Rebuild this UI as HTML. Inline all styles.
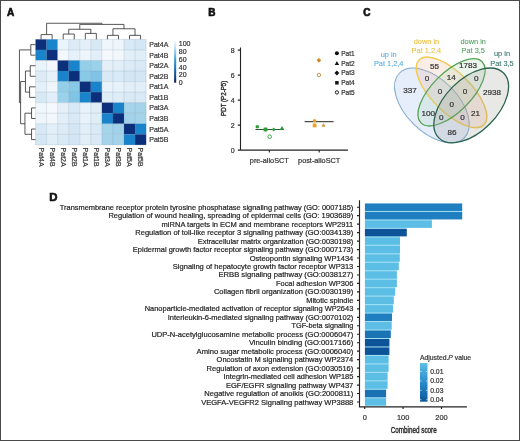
<!DOCTYPE html>
<html><head><meta charset="utf-8"><title>Figure</title>
<style>
html,body{margin:0;padding:0;background:#fff;}
svg{display:block;will-change:transform;}
text{font-family:"Liberation Sans", sans-serif;}
</style></head><body>
<svg width="520" height="441" viewBox="0 0 520 441">
<rect x="0.5" y="0.5" width="519" height="440" fill="#fff" stroke="#4a4a4a" stroke-width="1"/>
<text x="7.0" y="15.8" font-size="10" font-weight="bold" fill="#111" stroke="#111" stroke-width="0.65">A</text>
<text x="208.3" y="15.8" font-size="10" font-weight="bold" fill="#111" stroke="#111" stroke-width="0.65">B</text>
<text x="363.3" y="15.8" font-size="10" font-weight="bold" fill="#111" stroke="#111" stroke-width="0.65">C</text>
<text x="49.2" y="200.6" font-size="11.4" font-weight="bold" fill="#111" stroke="#111" stroke-width="0.65">D</text>
<rect x="35.55" y="39.35" width="11.11" height="10.60" fill="#0b2f7a"/>
<rect x="46.60" y="39.35" width="11.11" height="10.60" fill="#1983cb"/>
<rect x="57.66" y="39.35" width="11.11" height="10.60" fill="#eaf4fb"/>
<rect x="68.72" y="39.35" width="11.11" height="10.60" fill="#dcebf6"/>
<rect x="79.77" y="39.35" width="11.11" height="10.60" fill="#e4f0f9"/>
<rect x="90.82" y="39.35" width="11.11" height="10.60" fill="#d8e9f6"/>
<rect x="101.88" y="39.35" width="11.11" height="10.60" fill="#f0f7fc"/>
<rect x="112.93" y="39.35" width="11.11" height="10.60" fill="#eef5fb"/>
<rect x="123.99" y="39.35" width="11.11" height="10.60" fill="#d8e9f5"/>
<rect x="135.05" y="39.35" width="11.11" height="10.60" fill="#d5e7f4"/>
<rect x="35.55" y="49.90" width="11.11" height="10.60" fill="#1983cb"/>
<rect x="46.60" y="49.90" width="11.11" height="10.60" fill="#0b2f7a"/>
<rect x="57.66" y="49.90" width="11.11" height="10.60" fill="#f2f8fd"/>
<rect x="68.72" y="49.90" width="11.11" height="10.60" fill="#e6f1f9"/>
<rect x="79.77" y="49.90" width="11.11" height="10.60" fill="#eef5fb"/>
<rect x="90.82" y="49.90" width="11.11" height="10.60" fill="#e3eff8"/>
<rect x="101.88" y="49.90" width="11.11" height="10.60" fill="#f5f9fd"/>
<rect x="112.93" y="49.90" width="11.11" height="10.60" fill="#f2f7fc"/>
<rect x="123.99" y="49.90" width="11.11" height="10.60" fill="#e3eff8"/>
<rect x="135.05" y="49.90" width="11.11" height="10.60" fill="#dfeef7"/>
<rect x="35.55" y="60.45" width="11.11" height="10.60" fill="#eaf4fb"/>
<rect x="46.60" y="60.45" width="11.11" height="10.60" fill="#f2f8fd"/>
<rect x="57.66" y="60.45" width="11.11" height="10.60" fill="#0b2f7a"/>
<rect x="68.72" y="60.45" width="11.11" height="10.60" fill="#1983cb"/>
<rect x="79.77" y="60.45" width="11.11" height="10.60" fill="#94cfea"/>
<rect x="90.82" y="60.45" width="11.11" height="10.60" fill="#9bd2eb"/>
<rect x="101.88" y="60.45" width="11.11" height="10.60" fill="#e4eff8"/>
<rect x="112.93" y="60.45" width="11.11" height="10.60" fill="#e2eef8"/>
<rect x="123.99" y="60.45" width="11.11" height="10.60" fill="#dcebf6"/>
<rect x="135.05" y="60.45" width="11.11" height="10.60" fill="#dae9f6"/>
<rect x="35.55" y="71.00" width="11.11" height="10.60" fill="#dcebf6"/>
<rect x="46.60" y="71.00" width="11.11" height="10.60" fill="#e6f1f9"/>
<rect x="57.66" y="71.00" width="11.11" height="10.60" fill="#1983cb"/>
<rect x="68.72" y="71.00" width="11.11" height="10.60" fill="#0b2f7a"/>
<rect x="79.77" y="71.00" width="11.11" height="10.60" fill="#88c9e7"/>
<rect x="90.82" y="71.00" width="11.11" height="10.60" fill="#80c4e5"/>
<rect x="101.88" y="71.00" width="11.11" height="10.60" fill="#d9e9f5"/>
<rect x="112.93" y="71.00" width="11.11" height="10.60" fill="#d9e9f5"/>
<rect x="123.99" y="71.00" width="11.11" height="10.60" fill="#d4e6f3"/>
<rect x="135.05" y="71.00" width="11.11" height="10.60" fill="#d4e6f3"/>
<rect x="35.55" y="81.55" width="11.11" height="10.60" fill="#e4f0f9"/>
<rect x="46.60" y="81.55" width="11.11" height="10.60" fill="#eef5fb"/>
<rect x="57.66" y="81.55" width="11.11" height="10.60" fill="#94cfea"/>
<rect x="68.72" y="81.55" width="11.11" height="10.60" fill="#88c9e7"/>
<rect x="79.77" y="81.55" width="11.11" height="10.60" fill="#0b2f7a"/>
<rect x="90.82" y="81.55" width="11.11" height="10.60" fill="#1983cb"/>
<rect x="101.88" y="81.55" width="11.11" height="10.60" fill="#e8f2fa"/>
<rect x="112.93" y="81.55" width="11.11" height="10.60" fill="#e8f2fa"/>
<rect x="123.99" y="81.55" width="11.11" height="10.60" fill="#e2eef8"/>
<rect x="135.05" y="81.55" width="11.11" height="10.60" fill="#e2eef8"/>
<rect x="35.55" y="92.10" width="11.11" height="10.60" fill="#d8e9f6"/>
<rect x="46.60" y="92.10" width="11.11" height="10.60" fill="#e3eff8"/>
<rect x="57.66" y="92.10" width="11.11" height="10.60" fill="#9bd2eb"/>
<rect x="68.72" y="92.10" width="11.11" height="10.60" fill="#80c4e5"/>
<rect x="79.77" y="92.10" width="11.11" height="10.60" fill="#1983cb"/>
<rect x="90.82" y="92.10" width="11.11" height="10.60" fill="#0b2f7a"/>
<rect x="101.88" y="92.10" width="11.11" height="10.60" fill="#dfedf7"/>
<rect x="112.93" y="92.10" width="11.11" height="10.60" fill="#dfedf7"/>
<rect x="123.99" y="92.10" width="11.11" height="10.60" fill="#d9e9f5"/>
<rect x="135.05" y="92.10" width="11.11" height="10.60" fill="#d9e9f5"/>
<rect x="35.55" y="102.65" width="11.11" height="10.60" fill="#f0f7fc"/>
<rect x="46.60" y="102.65" width="11.11" height="10.60" fill="#f5f9fd"/>
<rect x="57.66" y="102.65" width="11.11" height="10.60" fill="#e4eff8"/>
<rect x="68.72" y="102.65" width="11.11" height="10.60" fill="#d9e9f5"/>
<rect x="79.77" y="102.65" width="11.11" height="10.60" fill="#e8f2fa"/>
<rect x="90.82" y="102.65" width="11.11" height="10.60" fill="#dfedf7"/>
<rect x="101.88" y="102.65" width="11.11" height="10.60" fill="#0b2f7a"/>
<rect x="112.93" y="102.65" width="11.11" height="10.60" fill="#1983cb"/>
<rect x="123.99" y="102.65" width="11.11" height="10.60" fill="#a6d4ea"/>
<rect x="135.05" y="102.65" width="11.11" height="10.60" fill="#a4d3ea"/>
<rect x="35.55" y="113.20" width="11.11" height="10.60" fill="#eef5fb"/>
<rect x="46.60" y="113.20" width="11.11" height="10.60" fill="#f2f7fc"/>
<rect x="57.66" y="113.20" width="11.11" height="10.60" fill="#e2eef8"/>
<rect x="68.72" y="113.20" width="11.11" height="10.60" fill="#d9e9f5"/>
<rect x="79.77" y="113.20" width="11.11" height="10.60" fill="#e8f2fa"/>
<rect x="90.82" y="113.20" width="11.11" height="10.60" fill="#dfedf7"/>
<rect x="101.88" y="113.20" width="11.11" height="10.60" fill="#1983cb"/>
<rect x="112.93" y="113.20" width="11.11" height="10.60" fill="#0b2f7a"/>
<rect x="123.99" y="113.20" width="11.11" height="10.60" fill="#a2d2e9"/>
<rect x="135.05" y="113.20" width="11.11" height="10.60" fill="#a4d3ea"/>
<rect x="35.55" y="123.75" width="11.11" height="10.60" fill="#d8e9f5"/>
<rect x="46.60" y="123.75" width="11.11" height="10.60" fill="#e3eff8"/>
<rect x="57.66" y="123.75" width="11.11" height="10.60" fill="#dcebf6"/>
<rect x="68.72" y="123.75" width="11.11" height="10.60" fill="#d4e6f3"/>
<rect x="79.77" y="123.75" width="11.11" height="10.60" fill="#e2eef8"/>
<rect x="90.82" y="123.75" width="11.11" height="10.60" fill="#d9e9f5"/>
<rect x="101.88" y="123.75" width="11.11" height="10.60" fill="#a6d4ea"/>
<rect x="112.93" y="123.75" width="11.11" height="10.60" fill="#a2d2e9"/>
<rect x="123.99" y="123.75" width="11.11" height="10.60" fill="#0b2f7a"/>
<rect x="135.05" y="123.75" width="11.11" height="10.60" fill="#1983cb"/>
<rect x="35.55" y="134.30" width="11.11" height="10.60" fill="#d5e7f4"/>
<rect x="46.60" y="134.30" width="11.11" height="10.60" fill="#dfeef7"/>
<rect x="57.66" y="134.30" width="11.11" height="10.60" fill="#dae9f6"/>
<rect x="68.72" y="134.30" width="11.11" height="10.60" fill="#d4e6f3"/>
<rect x="79.77" y="134.30" width="11.11" height="10.60" fill="#e2eef8"/>
<rect x="90.82" y="134.30" width="11.11" height="10.60" fill="#d9e9f5"/>
<rect x="101.88" y="134.30" width="11.11" height="10.60" fill="#a4d3ea"/>
<rect x="112.93" y="134.30" width="11.11" height="10.60" fill="#a4d3ea"/>
<rect x="123.99" y="134.30" width="11.11" height="10.60" fill="#1983cb"/>
<rect x="135.05" y="134.30" width="11.11" height="10.60" fill="#0b2f7a"/>
<path d="M35.55 39.35V144.85 M35.55 39.35H146.10 M46.60 39.35V144.85 M35.55 49.90H146.10 M57.66 39.35V144.85 M35.55 60.45H146.10 M68.72 39.35V144.85 M35.55 71.00H146.10 M79.77 39.35V144.85 M35.55 81.55H146.10 M90.82 39.35V144.85 M35.55 92.10H146.10 M101.88 39.35V144.85 M35.55 102.65H146.10 M112.93 39.35V144.85 M35.55 113.20H146.10 M123.99 39.35V144.85 M35.55 123.75H146.10 M135.05 39.35V144.85 M35.55 134.30H146.10 M146.10 39.35V144.85 M35.55 144.85H146.10" stroke="#5a7890" stroke-width="0.6" fill="none" opacity="0.28"/>
<path d="M41.08 39.35V34.60 M52.13 39.35V34.60 M41.08 34.60H52.13 M63.19 39.35V34.05 M74.24 39.35V34.05 M63.19 34.05H74.24 M85.30 39.35V33.40 M96.35 39.35V33.40 M85.30 33.40H96.35 M107.41 39.35V35.35 M118.46 39.35V35.35 M107.41 35.35H118.46 M129.52 39.35V35.35 M140.57 39.35V35.35 M129.52 35.35H140.57 M68.72 34.05V29.25 M90.82 33.40V29.25 M68.72 29.25H90.82 M112.94 35.35V28.75 M135.04 35.35V28.75 M112.94 28.75H135.04 M79.77 29.25V24.40 M123.99 28.75V24.40 M79.77 24.40H123.99 M46.60 34.60V23.25 M101.88 24.40V23.25 M46.60 23.25H101.88 M35.55 44.62H30.80 M35.55 55.18H30.80 M30.80 44.62V55.18 M35.55 65.72H30.25 M35.55 76.28H30.25 M30.25 65.72V76.28 M35.55 86.83H29.60 M35.55 97.38H29.60 M29.60 86.83V97.38 M35.55 107.93H31.55 M35.55 118.47H31.55 M31.55 107.93V118.47 M35.55 129.03H31.55 M35.55 139.58H31.55 M31.55 129.03V139.58 M30.25 71.00H25.45 M29.60 92.10H25.45 M25.45 71.00V92.10 M31.55 113.20H24.95 M31.55 134.30H24.95 M24.95 113.20V134.30 M25.45 81.55H20.60 M24.95 123.75H20.60 M20.60 81.55V123.75 M30.80 49.90H19.45 M20.60 102.65H19.45 M19.45 49.90V102.65" stroke="#3a3a3a" stroke-width="0.85" fill="none"/>
<text x="149.3" y="47.12" font-size="7" fill="#333" stroke="#333" stroke-width="0.2">Pat4A</text>
<text x="149.3" y="57.68" font-size="7" fill="#333" stroke="#333" stroke-width="0.2">Pat4B</text>
<text x="149.3" y="68.22" font-size="7" fill="#333" stroke="#333" stroke-width="0.2">Pat2A</text>
<text x="149.3" y="78.78" font-size="7" fill="#333" stroke="#333" stroke-width="0.2">Pat2B</text>
<text x="149.3" y="89.33" font-size="7" fill="#333" stroke="#333" stroke-width="0.2">Pat1A</text>
<text x="149.3" y="99.88" font-size="7" fill="#333" stroke="#333" stroke-width="0.2">Pat1B</text>
<text x="149.3" y="110.43" font-size="7" fill="#333" stroke="#333" stroke-width="0.2">Pat3A</text>
<text x="149.3" y="120.97" font-size="7" fill="#333" stroke="#333" stroke-width="0.2">Pat3B</text>
<text x="149.3" y="131.53" font-size="7" fill="#333" stroke="#333" stroke-width="0.2">Pat5A</text>
<text x="149.3" y="142.08" font-size="7" fill="#333" stroke="#333" stroke-width="0.2">Pat5B</text>
<text transform="translate(38.58,147.6) rotate(90)" font-size="7" fill="#333" stroke="#333" stroke-width="0.2">Pat4A</text>
<text transform="translate(49.63,147.6) rotate(90)" font-size="7" fill="#333" stroke="#333" stroke-width="0.2">Pat4B</text>
<text transform="translate(60.69,147.6) rotate(90)" font-size="7" fill="#333" stroke="#333" stroke-width="0.2">Pat2A</text>
<text transform="translate(71.74,147.6) rotate(90)" font-size="7" fill="#333" stroke="#333" stroke-width="0.2">Pat2B</text>
<text transform="translate(82.80,147.6) rotate(90)" font-size="7" fill="#333" stroke="#333" stroke-width="0.2">Pat1A</text>
<text transform="translate(93.85,147.6) rotate(90)" font-size="7" fill="#333" stroke="#333" stroke-width="0.2">Pat1B</text>
<text transform="translate(104.91,147.6) rotate(90)" font-size="7" fill="#333" stroke="#333" stroke-width="0.2">Pat3A</text>
<text transform="translate(115.96,147.6) rotate(90)" font-size="7" fill="#333" stroke="#333" stroke-width="0.2">Pat3B</text>
<text transform="translate(127.02,147.6) rotate(90)" font-size="7" fill="#333" stroke="#333" stroke-width="0.2">Pat5A</text>
<text transform="translate(138.07,147.6) rotate(90)" font-size="7" fill="#333" stroke="#333" stroke-width="0.2">Pat5B</text>
<defs><linearGradient id="cbA" x1="0" y1="0" x2="0" y2="1"><stop offset="0" stop-color="#f2f8fd"/><stop offset="0.15" stop-color="#c4e2f2"/><stop offset="0.3" stop-color="#80c6e8"/><stop offset="0.45" stop-color="#3c9ed3"/><stop offset="0.6" stop-color="#2480c0"/><stop offset="0.75" stop-color="#1762a2"/><stop offset="0.9" stop-color="#0d3e7a"/><stop offset="1" stop-color="#0a2450"/></linearGradient><linearGradient id="cbD" x1="0" y1="0" x2="0" y2="1"><stop offset="0" stop-color="#5cbfe6"/><stop offset="0.5" stop-color="#2a8ccb"/><stop offset="1" stop-color="#0c5798"/></linearGradient></defs>
<rect x="174.1" y="40.8" width="2.1" height="41.9" fill="url(#cbA)"/>
<text x="178.8" y="46.45" font-size="7.0" fill="#333" stroke="#333" stroke-width="0.2">100</text>
<text x="178.8" y="54.17" font-size="7.0" fill="#333" stroke="#333" stroke-width="0.2">80</text>
<text x="178.8" y="61.89" font-size="7.0" fill="#333" stroke="#333" stroke-width="0.2">60</text>
<text x="178.8" y="69.61" font-size="7.0" fill="#333" stroke="#333" stroke-width="0.2">40</text>
<text x="178.8" y="77.33" font-size="7.0" fill="#333" stroke="#333" stroke-width="0.2">20</text>
<text x="178.8" y="85.05" font-size="7.0" fill="#333" stroke="#333" stroke-width="0.2">0</text>
<path d="M240.5 47.4V150.6 M240 150.1H347.9 M237.8 150.1H240.5 M237.8 125.1H240.5 M237.8 100.1H240.5 M237.8 75.1H240.5 M237.8 50.1H240.5 M269.3 150.1V152.4 M319.2 150.1V152.4" stroke="#222" stroke-width="1.1" fill="none"/>
<text x="234.7" y="152.60" font-size="7" text-anchor="end" fill="#333" stroke="#333" stroke-width="0.2">0</text>
<text x="234.7" y="127.60" font-size="7" text-anchor="end" fill="#333" stroke="#333" stroke-width="0.2">2</text>
<text x="234.7" y="102.60" font-size="7" text-anchor="end" fill="#333" stroke="#333" stroke-width="0.2">4</text>
<text x="234.7" y="77.60" font-size="7" text-anchor="end" fill="#333" stroke="#333" stroke-width="0.2">6</text>
<text x="234.7" y="52.60" font-size="7" text-anchor="end" fill="#333" stroke="#333" stroke-width="0.2">8</text>
<text transform="translate(226.0,98.3) rotate(-90) scale(0.95,1)" font-size="6.5" text-anchor="middle" fill="#2a2a2a" stroke="#2a2a2a" stroke-width="0.35">PDT (P2-P5)</text>
<text x="269.3" y="162.7" font-size="7.3" text-anchor="middle" fill="#333" stroke="#333" stroke-width="0.2">pre-alloSCT</text>
<text x="319.2" y="162.7" font-size="7.3" text-anchor="middle" fill="#333" stroke="#333" stroke-width="0.2">post-alloSCT</text>
<path d="M255.4 129.5H283.8" stroke="#2a5a2a" stroke-width="1"/>
<circle cx="257.3" cy="126.8" r="1.8" fill="#2e9e3a"/>
<rect x="263.6" y="127.7" width="3.8" height="3.6" fill="#2e9e3a"/>
<circle cx="265.6" cy="129.5" r="1.9" fill="#2e9e3a"/>
<path d="M273.7 127.5L275.6 129.5L273.7 131.5L271.8 129.5Z" fill="#2e9e3a"/>
<path d="M282 125.9L284.1 129.6H279.9Z" fill="#2e9e3a"/>
<circle cx="269.7" cy="136.7" r="1.8" fill="none" stroke="#2e9e3a" stroke-width="0.9"/>
<path d="M304.6 121.7H333.6" stroke="#222" stroke-width="1"/>
<circle cx="314.6" cy="120.8" r="1.8" fill="#f0a020"/>
<rect x="312.7" y="123.5" width="3.8" height="3.8" fill="#f0a020"/>
<path d="M323.5 123L325.6 126.7H321.4Z" fill="#d09a3c"/>
<path d="M318.9 57.9L321.2 60.3L318.9 62.7L316.6 60.3Z" fill="#d08a20"/>
<circle cx="318.9" cy="75" r="1.7" fill="#fff" stroke="#c08a30" stroke-width="0.9"/>
<circle cx="336.9" cy="53.2" r="2.0" fill="#111"/>
<path d="M336.9 61.0L339.1 65.0H334.7Z" fill="#111"/>
<path d="M336.9 70.6L339.3 73.0L336.9 75.4L334.5 73.0Z" fill="#111"/>
<rect x="335.15" y="81.05" width="3.5" height="3.5" fill="#111"/>
<circle cx="336.9" cy="92.4" r="1.65" fill="none" stroke="#111" stroke-width="0.95"/>
<text x="341.2" y="55.50" font-size="6.5" fill="#333" stroke="#333" stroke-width="0.2">Pat1</text>
<text x="341.2" y="65.60" font-size="6.5" fill="#333" stroke="#333" stroke-width="0.2">Pat2</text>
<text x="341.2" y="75.30" font-size="6.5" fill="#333" stroke="#333" stroke-width="0.2">Pat3</text>
<text x="341.2" y="85.10" font-size="6.5" fill="#333" stroke="#333" stroke-width="0.2">Pat4</text>
<text x="341.2" y="94.70" font-size="6.5" fill="#333" stroke="#333" stroke-width="0.2">Pat5</text>
<ellipse cx="431.90" cy="105.42" rx="45.85" ry="26.20" transform="rotate(45 431.90 105.42)" fill="rgba(150,180,240,0.24)" stroke="#7ea8cc" stroke-width="1.0"/>
<ellipse cx="451.55" cy="92.31" rx="45.85" ry="19.65" transform="rotate(45 451.55 92.31)" fill="rgba(235,180,150,0.24)" stroke="#f1ca52" stroke-width="1.45"/>
<ellipse cx="451.55" cy="92.31" rx="43.23" ry="19.65" transform="rotate(-45 451.55 92.31)" fill="rgba(170,210,170,0.22)" stroke="#52a455" stroke-width="1.3"/>
<ellipse cx="471.20" cy="105.42" rx="45.85" ry="26.20" transform="rotate(-45 471.20 105.42)" fill="rgba(150,150,140,0.22)" stroke="#2b6450" stroke-width="1.3"/>
<text transform="translate(410,92.65) scale(1.1,1)" font-size="7.4" text-anchor="middle" fill="#333" stroke="#333" stroke-width="0.2">337</text>
<text transform="translate(434.5,68.95) scale(1.1,1)" font-size="7.4" text-anchor="middle" fill="#333" stroke="#333" stroke-width="0.2">55</text>
<text transform="translate(468,67.65) scale(1.1,1)" font-size="7.4" text-anchor="middle" fill="#333" stroke="#333" stroke-width="0.2">1783</text>
<text transform="translate(492,95.15) scale(1.1,1)" font-size="7.4" text-anchor="middle" fill="#333" stroke="#333" stroke-width="0.2">2938</text>
<text transform="translate(427,80.65) scale(1.1,1)" font-size="7.4" text-anchor="middle" fill="#333" stroke="#333" stroke-width="0.2">0</text>
<text transform="translate(451.3,80.15) scale(1.1,1)" font-size="7.4" text-anchor="middle" fill="#333" stroke="#333" stroke-width="0.2">14</text>
<text transform="translate(476.3,81.45) scale(1.1,1)" font-size="7.4" text-anchor="middle" fill="#333" stroke="#333" stroke-width="0.2">0</text>
<text transform="translate(440,93.95) scale(1.1,1)" font-size="7.4" text-anchor="middle" fill="#333" stroke="#333" stroke-width="0.2">0</text>
<text transform="translate(465,93.95) scale(1.1,1)" font-size="7.4" text-anchor="middle" fill="#333" stroke="#333" stroke-width="0.2">0</text>
<text transform="translate(451.8,107.15) scale(1.1,1)" font-size="7.4" text-anchor="middle" fill="#333" stroke="#333" stroke-width="0.2">0</text>
<text transform="translate(428.3,115.65) scale(1.1,1)" font-size="7.4" text-anchor="middle" fill="#333" stroke="#333" stroke-width="0.2">100</text>
<text transform="translate(475.5,115.65) scale(1.1,1)" font-size="7.4" text-anchor="middle" fill="#333" stroke="#333" stroke-width="0.2">21</text>
<text transform="translate(441.3,120.15) scale(1.1,1)" font-size="7.4" text-anchor="middle" fill="#333" stroke="#333" stroke-width="0.2">0</text>
<text transform="translate(462.5,120.15) scale(1.1,1)" font-size="7.4" text-anchor="middle" fill="#333" stroke="#333" stroke-width="0.2">0</text>
<text transform="translate(452,134.65) scale(1.1,1)" font-size="7.4" text-anchor="middle" fill="#333" stroke="#333" stroke-width="0.2">86</text>
<text x="388.7" y="57.15" font-size="7.4" text-anchor="middle" fill="#55ade2" stroke="#55ade2" stroke-width="0.08">up in</text>
<text x="388.7" y="65.65" font-size="7.4" text-anchor="middle" fill="#55ade2" stroke="#55ade2" stroke-width="0.08">Pat 1,2,4</text>
<text x="426.4" y="43.95" font-size="7.4" text-anchor="middle" fill="#ecbd3a" stroke="#ecbd3a" stroke-width="0.08">down in</text>
<text x="426.4" y="52.55" font-size="7.4" text-anchor="middle" fill="#ecbd3a" stroke="#ecbd3a" stroke-width="0.08">Pat 1,2,4</text>
<text x="473.2" y="43.95" font-size="7.4" text-anchor="middle" fill="#52a060" stroke="#52a060" stroke-width="0.08">down in</text>
<text x="473.2" y="52.55" font-size="7.4" text-anchor="middle" fill="#52a060" stroke="#52a060" stroke-width="0.08">Pat 3,5</text>
<text x="502" y="56.45" font-size="7.4" text-anchor="middle" fill="#2f6e66" stroke="#2f6e66" stroke-width="0.08">up in</text>
<text x="502" y="66.15" font-size="7.4" text-anchor="middle" fill="#2f6e66" stroke="#2f6e66" stroke-width="0.08">Pat 3,5</text>
<rect x="364.9" y="210.53" width="97.30" height="1.8" fill="#a8e2f7"/>
<rect x="364.9" y="219.00" width="67.00" height="1.8" fill="#a8e2f7"/>
<rect x="364.9" y="227.47" width="41.90" height="1.8" fill="#a8e2f7"/>
<rect x="364.9" y="235.94" width="35.10" height="1.8" fill="#a8e2f7"/>
<rect x="364.9" y="244.41" width="35.10" height="1.8" fill="#a8e2f7"/>
<rect x="364.9" y="252.88" width="34.90" height="1.8" fill="#a8e2f7"/>
<rect x="364.9" y="261.36" width="33.90" height="1.8" fill="#a8e2f7"/>
<rect x="364.9" y="269.83" width="32.00" height="1.8" fill="#a8e2f7"/>
<rect x="364.9" y="278.30" width="32.00" height="1.8" fill="#a8e2f7"/>
<rect x="364.9" y="286.76" width="30.30" height="1.8" fill="#a8e2f7"/>
<rect x="364.9" y="295.24" width="28.90" height="1.8" fill="#a8e2f7"/>
<rect x="364.9" y="303.71" width="28.20" height="1.8" fill="#a8e2f7"/>
<rect x="364.9" y="312.18" width="27.10" height="1.8" fill="#a8e2f7"/>
<rect x="364.9" y="320.65" width="26.80" height="1.8" fill="#a8e2f7"/>
<rect x="364.9" y="329.12" width="25.90" height="1.8" fill="#a8e2f7"/>
<rect x="364.9" y="337.59" width="24.50" height="1.8" fill="#a8e2f7"/>
<rect x="364.9" y="346.06" width="24.50" height="1.8" fill="#a8e2f7"/>
<rect x="364.9" y="354.53" width="23.70" height="1.8" fill="#a8e2f7"/>
<rect x="364.9" y="363.00" width="23.70" height="1.8" fill="#a8e2f7"/>
<rect x="364.9" y="371.47" width="22.70" height="1.8" fill="#a8e2f7"/>
<rect x="364.9" y="379.94" width="22.70" height="1.8" fill="#a8e2f7"/>
<rect x="364.9" y="388.41" width="21.20" height="1.8" fill="#a8e2f7"/>
<rect x="364.9" y="396.88" width="21.20" height="1.8" fill="#a8e2f7"/>
<rect x="364.9" y="203.45" width="97.30" height="7.5" fill="#1f7fc1"/>
<text x="59.80" y="209.70" font-size="7.6" textLength="293.50" lengthAdjust="spacingAndGlyphs" fill="#1e1e1e" stroke="#1e1e1e" stroke-width="0.2">Transmembrane receptor protein tyrosine phosphatase signaling pathway (GO: 0007185)</text>
<rect x="364.9" y="211.92" width="97.30" height="7.5" fill="#1f7fc1"/>
<text x="108.40" y="218.17" font-size="7.6" textLength="244.90" lengthAdjust="spacingAndGlyphs" fill="#1e1e1e" stroke="#1e1e1e" stroke-width="0.2">Regulation of wound healing, spreading of epidermal cells (GO: 1903689)</text>
<rect x="364.9" y="220.39" width="67.00" height="7.5" fill="#5cbee4"/>
<text x="161.60" y="226.64" font-size="7.6" textLength="191.70" lengthAdjust="spacingAndGlyphs" fill="#1e1e1e" stroke="#1e1e1e" stroke-width="0.2">miRNA targets in ECM and membrane receptors WP2911</text>
<rect x="364.9" y="228.86" width="41.90" height="7.5" fill="#0c5397"/>
<text x="135.30" y="235.11" font-size="7.6" textLength="218.00" lengthAdjust="spacingAndGlyphs" fill="#1e1e1e" stroke="#1e1e1e" stroke-width="0.2">Regulation of toll-like receptor 3 signaling pathway (GO:0034139)</text>
<rect x="364.9" y="237.33" width="35.10" height="7.5" fill="#5cbee4"/>
<text x="197.70" y="243.58" font-size="7.6" textLength="155.60" lengthAdjust="spacingAndGlyphs" fill="#1e1e1e" stroke="#1e1e1e" stroke-width="0.2">Extracellular matrix organization (GO:0030198)</text>
<rect x="364.9" y="245.80" width="35.10" height="7.5" fill="#5cbee4"/>
<text x="132.80" y="252.05" font-size="7.6" textLength="220.50" lengthAdjust="spacingAndGlyphs" fill="#1e1e1e" stroke="#1e1e1e" stroke-width="0.2">Epidermal growth factor receptor signaling pathway (GO:0007173)</text>
<rect x="364.9" y="254.27" width="34.90" height="7.5" fill="#5cbee4"/>
<text x="249.70" y="260.52" font-size="7.6" textLength="103.60" lengthAdjust="spacingAndGlyphs" fill="#1e1e1e" stroke="#1e1e1e" stroke-width="0.2">Osteopontin signaling WP1434</text>
<rect x="364.9" y="262.74" width="33.90" height="7.5" fill="#5cbee4"/>
<text x="172.80" y="268.99" font-size="7.6" textLength="180.50" lengthAdjust="spacingAndGlyphs" fill="#1e1e1e" stroke="#1e1e1e" stroke-width="0.2">Signaling of hepatocyte growth factor receptor WP313</text>
<rect x="364.9" y="271.21" width="32.00" height="7.5" fill="#5cbee4"/>
<text x="218.40" y="277.46" font-size="7.6" textLength="134.90" lengthAdjust="spacingAndGlyphs" fill="#1e1e1e" stroke="#1e1e1e" stroke-width="0.2">ERBB signaling pathway (GO:0038127)</text>
<rect x="364.9" y="279.68" width="32.00" height="7.5" fill="#5cbee4"/>
<text x="275.90" y="285.93" font-size="7.6" textLength="77.40" lengthAdjust="spacingAndGlyphs" fill="#1e1e1e" stroke="#1e1e1e" stroke-width="0.2">Focal adhesion WP306</text>
<rect x="364.9" y="288.15" width="30.30" height="7.5" fill="#5cbee4"/>
<text x="213.90" y="294.40" font-size="7.6" textLength="139.40" lengthAdjust="spacingAndGlyphs" fill="#1e1e1e" stroke="#1e1e1e" stroke-width="0.2">Collagen fibril organization (GO:0030199)</text>
<rect x="364.9" y="296.62" width="28.90" height="7.5" fill="#5cbee4"/>
<text x="306.20" y="302.87" font-size="7.6" textLength="47.10" lengthAdjust="spacingAndGlyphs" fill="#1e1e1e" stroke="#1e1e1e" stroke-width="0.2">Mitotic spindle</text>
<rect x="364.9" y="305.09" width="28.20" height="7.5" fill="#5cbee4"/>
<text x="144.70" y="311.34" font-size="7.6" textLength="208.60" lengthAdjust="spacingAndGlyphs" fill="#1e1e1e" stroke="#1e1e1e" stroke-width="0.2">Nanoparticle-mediated activation of receptor signaling WP2643</text>
<rect x="364.9" y="313.56" width="27.10" height="7.5" fill="#1f7fc1"/>
<text x="167.80" y="319.81" font-size="7.6" textLength="185.50" lengthAdjust="spacingAndGlyphs" fill="#1e1e1e" stroke="#1e1e1e" stroke-width="0.2">Interleukin-6-mediated signaling pathway (GO:0070102)</text>
<rect x="364.9" y="322.03" width="26.80" height="7.5" fill="#5cbee4"/>
<text x="291.60" y="328.28" font-size="7.6" textLength="61.70" lengthAdjust="spacingAndGlyphs" fill="#1e1e1e" stroke="#1e1e1e" stroke-width="0.2">TGF-beta signaling</text>
<rect x="364.9" y="330.50" width="25.90" height="7.5" fill="#1a74b4"/>
<text x="151.40" y="336.75" font-size="7.6" textLength="201.90" lengthAdjust="spacingAndGlyphs" fill="#1e1e1e" stroke="#1e1e1e" stroke-width="0.2">UDP-N-acetylglucosamine metabolic process (GO:0006047)</text>
<rect x="364.9" y="338.97" width="24.50" height="7.5" fill="#0c5397"/>
<text x="248.90" y="345.22" font-size="7.6" textLength="104.40" lengthAdjust="spacingAndGlyphs" fill="#1e1e1e" stroke="#1e1e1e" stroke-width="0.2">Vinculin binding (GO:0017166)</text>
<rect x="364.9" y="347.44" width="24.50" height="7.5" fill="#0c5397"/>
<text x="196.60" y="353.69" font-size="7.6" textLength="156.70" lengthAdjust="spacingAndGlyphs" fill="#1e1e1e" stroke="#1e1e1e" stroke-width="0.2">Amino sugar metabolic process (GO:0006040)</text>
<rect x="364.9" y="355.91" width="23.70" height="7.5" fill="#5cbee4"/>
<text x="216.60" y="362.16" font-size="7.6" textLength="136.70" lengthAdjust="spacingAndGlyphs" fill="#1e1e1e" stroke="#1e1e1e" stroke-width="0.2">Oncostatin M signaling pathway WP2374</text>
<rect x="364.9" y="364.38" width="23.70" height="7.5" fill="#5cbee4"/>
<text x="206.60" y="370.63" font-size="7.6" textLength="146.70" lengthAdjust="spacingAndGlyphs" fill="#1e1e1e" stroke="#1e1e1e" stroke-width="0.2">Regulation of axon extension (GO:0030516)</text>
<rect x="364.9" y="372.85" width="22.70" height="7.5" fill="#5cbee4"/>
<text x="223.50" y="379.10" font-size="7.6" textLength="129.80" lengthAdjust="spacingAndGlyphs" fill="#1e1e1e" stroke="#1e1e1e" stroke-width="0.2">Integrin-mediated cell adhesion WP185</text>
<rect x="364.9" y="381.32" width="22.70" height="7.5" fill="#5cbee4"/>
<text x="225.90" y="387.57" font-size="7.6" textLength="127.40" lengthAdjust="spacingAndGlyphs" fill="#1e1e1e" stroke="#1e1e1e" stroke-width="0.2">EGF/EGFR signaling pathway WP437</text>
<rect x="364.9" y="389.79" width="21.20" height="7.5" fill="#1b72b2"/>
<text x="204.30" y="396.04" font-size="7.6" textLength="149.00" lengthAdjust="spacingAndGlyphs" fill="#1e1e1e" stroke="#1e1e1e" stroke-width="0.2">Negative regulation of anoikis (GO:2000811)</text>
<rect x="364.9" y="398.26" width="21.20" height="7.5" fill="#5cbee4"/>
<text x="201.20" y="404.51" font-size="7.6" textLength="152.10" lengthAdjust="spacingAndGlyphs" fill="#1e1e1e" stroke="#1e1e1e" stroke-width="0.2">VEGFA-VEGFR2 Signaling pathway WP3888</text>
<path d="M359.5 200.2V407.4 M358.9 406.8H466.9 M357 207.20H359.5 M357 215.67H359.5 M357 224.14H359.5 M357 232.61H359.5 M357 241.08H359.5 M357 249.55H359.5 M357 258.02H359.5 M357 266.49H359.5 M357 274.96H359.5 M357 283.43H359.5 M357 291.90H359.5 M357 300.37H359.5 M357 308.84H359.5 M357 317.31H359.5 M357 325.78H359.5 M357 334.25H359.5 M357 342.72H359.5 M357 351.19H359.5 M357 359.66H359.5 M357 368.13H359.5 M357 376.60H359.5 M357 385.07H359.5 M357 393.54H359.5 M357 402.01H359.5 M364.7 406.8V409 M403.1 406.8V409 M441.5 406.8V409" stroke="#222" stroke-width="1.15" fill="none"/>
<text x="364.7" y="420.05" font-size="7.4" text-anchor="middle" fill="#333" stroke="#333" stroke-width="0.2">0</text>
<text x="403.1" y="420.05" font-size="7.4" text-anchor="middle" fill="#333" stroke="#333" stroke-width="0.2">100</text>
<text x="441.5" y="420.05" font-size="7.4" text-anchor="middle" fill="#333" stroke="#333" stroke-width="0.2">200</text>
<text transform="translate(413.7,432.6) scale(0.72,1)" font-size="8.8" text-anchor="middle" fill="#2a2a2a" stroke="#2a2a2a" stroke-width="0.4">Combined score</text>
<text x="420" y="359.5" font-size="6.8" fill="#333" stroke="#333" stroke-width="0.2">Adjusted.<tspan font-style="italic">P</tspan> value</text>
<rect x="420" y="363.1" width="7.5" height="38.6" fill="url(#cbD)"/>
<path d="M420 371.60H421.5 M426 371.60H427.5" stroke="#fff" stroke-width="0.6"/>
<text x="430.2" y="374.05" font-size="6.8" fill="#333" stroke="#333" stroke-width="0.2">0.01</text>
<path d="M420 380.97H421.5 M426 380.97H427.5" stroke="#fff" stroke-width="0.6"/>
<text x="430.2" y="383.42" font-size="6.8" fill="#333" stroke="#333" stroke-width="0.2">0.02</text>
<path d="M420 390.34H421.5 M426 390.34H427.5" stroke="#fff" stroke-width="0.6"/>
<text x="430.2" y="392.79" font-size="6.8" fill="#333" stroke="#333" stroke-width="0.2">0.03</text>
<path d="M420 399.71H421.5 M426 399.71H427.5" stroke="#fff" stroke-width="0.6"/>
<text x="430.2" y="402.16" font-size="6.8" fill="#333" stroke="#333" stroke-width="0.2">0.04</text>
</svg>
</body></html>
